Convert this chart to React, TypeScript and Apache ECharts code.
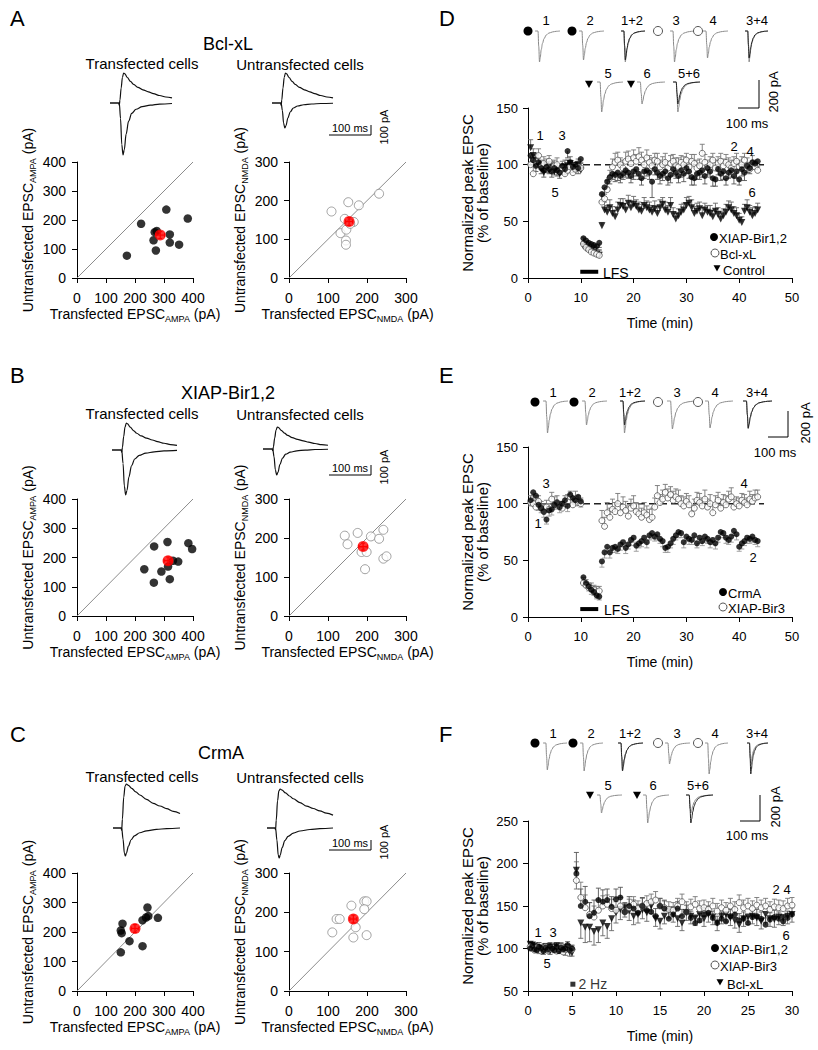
import React, { useEffect, useRef } from 'react';
import * as echarts from 'echarts';

const FONT = 'Arial, "Liberation Sans", Helvetica, sans-serif';

// ---------- Scatter panels (A, B, C): [transfected, untransfected] ----------
const A_ampa = [[172,77],[221,187],[308,236],[382,205],[268,158],[275,162],[264,130],[272,95],[320,150],[320,122],[352,115]];
const A_ampaMean = [287,148,15,12];
const A_nmda = [[109,172],[152,196],[179,188],[231,218],[143,153],[166,145],[132,116],[147,125],[146,97],[146,86],[157,140]];
const A_nmdaMean = [154,146,9,10];
const B_ampa = [[232,160],[266,238],[312,253],[384,249],[397,229],[265,114],[291,152],[314,169],[320,126],[331,189],[349,186]];
const B_ampaMean = [314,189,14,13];
const B_nmda = [[143,206],[150,184],[176,213],[210,204],[242,221],[231,198],[186,164],[199,164],[195,120],[242,147],[250,153]];
const B_nmdaMean = [190,178,11,9];
const C_ampa = [[151,131],[151,205],[154,196],[157,228],[181,169],[226,152],[226,240],[238,249],[243,283],[246,254],[279,248]];
const C_ampaMean = [200,212,13,13];
const C_nmda = [[111,149],[122,183],[130,183],[160,217],[165,136],[171,162],[193,228],[199,228],[193,208],[199,142]];
const C_nmdaMean = [165,183,9,10];

const ampaTicks = { min: 0, max: 400, interval: 100 };
const nmdaTicks = { min: 0, max: 300, interval: 100 };

// ---------- Time courses ----------
const timeDE = Array.from({ length: 87 }, (_, i) => 0.5 + i * 0.5);
const timeF = [0.25,0.5,0.75,1,1.25,1.5,1.75,2,2.25,2.5,2.75,3,3.25,3.5,3.75,4,4.25,4.5,4.75,5,
  5.5,6,6.5,7,7.5,8,8.5,9,9.5,10,10.5,11,11.5,12,12.5,13,13.5,14,14.5,15,15.5,16,16.5,17,17.5,18,18.5,19,19.5,20,
  20.5,21,21.5,22,22.5,23,23.5,24,24.5,25,25.5,26,26.5,27,27.5,28,28.5,29,29.5,30];

// D
const D_xiap = [108,104,99,102,97,95,98,96,94,97,95,93,99,96,112,102,98,100,97,105,
  35,33,31,30,29,28,31,
  74,80,85,89,92,91,93,90,92,95, 93,90,94,96,92,88,94,95,93,85, 96,93,90,92,94,88,91,96,93,90,
  95,92,97,94,89,88,92,93,95,90, 97,94,88,87,96,92,94,88,93,95, 90,94,87,96,93,99,97,102,101,103];
const D_xiapErr = [6,5,5,4,5,6,5,4,5,6,5,5,6,5,6,5,5,6,5,7, 5,5,4,5,4,5,4,
  6,6,5,6,5,6,7,6,5,6, 5,6,7,6,5,6,6,5,6,14, 5,6,7,6,5,6,7,6,5,6,
  6,7,5,6,7,6,5,6,6,7, 6,5,7,6,5,6,7,6,5,6, 7,6,5,6,7,6,5,6,5,5];
const D_bcl = [100,92,103,108,99,101,97,103,96,99,100,94,97,92,95,98,93,96,98,97,
  30,27,25,23,22,21,20,
  67,70,78,88,98,102,104,100,97,103, 105,101,106,103,107,104,100,106,102,99, 104,103,98,100,102,97,101,103,99,98,
  102,100,104,98,103,101,97,99,110,102, 98,100,104,97,101,103,99,102,100,97, 101,103,98,100,104,99,96,101,98,95];
const D_bclErr = [6,7,5,6,5,6,5,5,6,5,6,5,6,5,5,6,5,6,5,5, 6,5,6,5,5,6,5,
  8,9,8,7,7,8,7,6,7,8, 7,6,7,6,8,7,6,7,6,7, 6,7,6,7,8,6,7,6,7,8,
  6,7,6,7,6,8,7,6,8,7, 6,7,6,7,6,7,6,7,6,7, 6,7,6,7,6,7,6,7,6,6];
const D_ctrl = [115,108,104,100,96,93,100,95,98,94,96,92,95,98,99,101,97,96,100,95,
  28,26,25,24,22,21,20,
  46,60,58,62,57,54,60,64,63,60, 66,62,65,63,60,59,64,62,60,58, 61,57,62,65,60,58,64,56,52,55,
  58,60,64,66,62,57,59,61,55,60, 58,57,54,59,56,52,55,58,62,60, 57,55,51,49,59,62,58,55,57,60];
const D_ctrlErr = [7,6,5,6,5,6,5,6,5,6,5,6,5,6,5,6,5,6,5,6, 4,5,4,4,5,4,4,
  3,7,6,7,6,6,7,6,7,6, 7,6,7,6,7,6,7,6,7,6, 7,6,7,6,7,6,7,6,5,6,
  7,6,7,6,7,6,7,6,7,6, 6,7,6,7,6,7,6,7,6,7, 6,7,6,5,6,7,6,7,6,6];

// E
const E_crmA = [103,110,107,99,96,93,86,94,95,99,101,97,100,103,98,108,105,103,106,102,
  35,30,27,24,22,19,18,
  49,57,62,57,61,62,60,64,66,61, 64,68,70,63,65,67,70,66,72,74, 71,73,69,67,61,62,65,69,72,75,
  74,66,71,69,68,72,65,70,67,71, 69,66,68,65,70,75,74,70,68,71, 76,73,62,65,67,70,69,71,68,67];
const E_crmAErr = [5,6,5,5,4,5,4,5,5,4,5,5,4,5,5,4,5,5,4,5, 5,4,4,4,3,3,3,
  5,5,4,5,4,5,4,5,4,5, 4,5,4,5,4,5,4,5,4,5, 4,5,4,5,4,5,4,5,4,5,
  4,5,4,5,4,5,4,5,4,5, 4,5,4,5,4,5,4,5,4,5, 4,5,4,5,4,5,4,5,4,5];
const E_bir3 = [101,100,97,102,96,93,97,95,104,99,101,97,96,100,102,106,99,104,101,100,
  30,28,26,25,24,22,23,
  85,80,92,88,95,93,100,92,97,94, 89,96,98,93,91,88,92,90,86,88, 97,107,101,104,110,105,108,103,106,104,
  100,98,102,99,91,96,103,101,98,104, 97,100,92,99,103,96,101,99,104,106, 97,100,98,103,101,99,104,102,105,106];
const E_bir3Err = [6,7,6,5,6,7,6,5,6,7,6,5,6,7,6,5,6,7,6,5, 5,5,4,5,4,5,4,
  9,8,9,8,9,8,9,8,9,8, 9,8,9,8,9,8,9,8,9,8, 8,9,7,8,7,8,7,8,7,8,
  7,8,7,8,7,8,7,8,7,8, 7,8,7,8,7,8,7,8,7,8, 7,6,7,6,7,6,7,6,7,6];

// F
const F_bir12 = [100,103,99,98,102,100,97,101,99,103,100,98,102,97,101,99,100,104,98,100,
  188,150,155,138,142,157,155,157,149,158, 160,143,150,147,142,150,145,143,138,150,
  147,135,140,147,138,143,136,130,133,140, 142,136,130,135,132,138,140,133,135,130,
  137,138,135,128,134,137,135,132,136,140];
const F_bir12Err = [5,4,5,4,5,4,5,4,5,4,5,4,5,4,5,4,5,4,5,4,
  25,20,18,16,15,14,14,13,12,12, 12,11,11,10,10,10,10,9,9,9,
  9,9,9,8,8,8,8,8,8,8, 8,8,8,8,8,8,8,8,8,8, 8,8,8,8,8,8,8,8,8,8];
const F_bir3 = [102,100,98,101,99,97,100,102,98,100,101,99,97,100,102,96,99,101,98,99,
  180,160,148,140,137,145,150,152,147,145, 150,143,148,152,147,150,153,155,157,150,
  148,146,145,150,155,143,149,152,147,148, 146,150,144,148,145,150,146,154,148,150,
  147,151,148,150,146,149,148,147,150,151];
const F_bir3Err = [5,4,5,4,5,4,5,4,5,4,5,4,5,4,5,4,5,4,5,4,
  22,18,15,14,13,12,12,11,11,10, 10,10,10,9,9,9,9,9,10,9,
  9,9,9,9,9,12,9,9,9,9, 9,9,9,9,9,9,9,9,9,9, 9,9,9,9,9,9,9,9,9,9];
const F_bcl = [105,104,103,101,99,100,98,102,100,97,101,99,103,98,100,99,97,101,96,95,
  192,130,125,125,120,122,130,126,135,142, 146,148,144,138,140,145,142,150,135,132,
  138,145,140,135,130,142,138,136,140,135, 140,137,130,138,140,136,133,128,135,137,
  138,136,132,140,135,134,137,136,138,140];
const F_bclErr = [5,4,5,4,5,4,5,4,5,4,5,4,5,4,5,4,5,4,5,4,
  22,18,18,17,16,15,15,14,14,12, 12,11,11,10,10,10,10,9,9,9,
  9,9,9,9,9,9,9,9,9,9, 9,9,9,9,9,9,9,9,9,9, 9,9,9,9,9,9,9,9,9,9];

// ---------- Representative traces (x in % of sweep, y normalized) ----------
const upFast = [[0,0],[14,0],[15,-0.08],[16,0.1],[18,0.5],[20,0.85],[22,1],[24,0.97],[28,0.85],[33,0.72],[38,0.62],[45,0.52],[53,0.44],[62,0.37],[70,0.31],[80,0.25],[90,0.2],[100,0.17]];
const dnFast = [[0,0],[15,0],[17,-0.3],[19,-0.8],[21,-1],[23,-0.9],[26,-0.6],[30,-0.35],[35,-0.2],[42,-0.12],[52,-0.07],[65,-0.04],[80,-0.02],[100,-0.01]];
const upSlow = [[0,0],[12,0],[13,-0.05],[14,0.2],[16,0.7],[18,0.95],[20,1],[23,0.97],[28,0.9],[34,0.82],[40,0.75],[50,0.65],[60,0.56],[70,0.5],[80,0.44],[90,0.38],[100,0.33]];
const dnSlow = [[0,0],[13,0],[15,-0.4],[17,-0.9],[18.5,-1],[20,-0.9],[23,-0.65],[27,-0.42],[32,-0.28],[40,-0.17],[50,-0.1],[65,-0.05],[80,-0.02],[100,0]];
const epsc = [[0,0],[12,0],[15,-0.5],[18,-1],[21,-0.85],[25,-0.6],[30,-0.4],[36,-0.25],[45,-0.13],[55,-0.07],[70,-0.03],[85,-0.01],[100,0]];

function buildOption() {
  const grid: any[] = [], xAxis: any[] = [], yAxis: any[] = [], series: any[] = [], els: any[] = [];

  const addGrid = (box: any, xa: any, ya: any) => {
    grid.push({ ...box, containLabel: false, outerBoundsMode: 'none', show: false });
    const i = grid.length - 1;
    xAxis.push({ gridIndex: i, ...xa });
    yAxis.push({ gridIndex: i, ...ya });
    return i;
  };

  const axisBase = (fs: number, margin: number) => ({
    type: 'value',
    axisLine: { show: true, onZero: false, lineStyle: { color: '#000', width: 1 } },
    axisTick: { show: true, inside: false, length: 5, lineStyle: { color: '#000', width: 1 } },
    axisLabel: { color: '#000', fontSize: fs, fontFamily: FONT, margin },
    splitLine: { show: false },
  });

  const rich = {
    n: { fontSize: 14, fontFamily: FONT, color: '#000', lineHeight: 16, verticalAlign: 'top' },
    s: { fontSize: 9, fontFamily: FONT, color: '#000', lineHeight: 10, padding: [7, 0, 0, 0], verticalAlign: 'top' },
  };

  const scatterPanel = (box: any, ticks: any, sub: string, pts: number[][], mean: number[], filled: boolean) => {
    const i = addGrid(box,
      { ...axisBase(14, 13), ...ticks, name: `{n|Transfected EPSC}{s|${sub}}{n| (pA)}`, nameLocation: 'middle', nameGap: 29, nameTextStyle: { rich } },
      { ...axisBase(14, 11), ...ticks, name: `{n|Untransfected EPSC}{s|${sub}}{n| (pA)}`, nameLocation: 'middle', nameGap: 40, nameTextStyle: { rich } });
    series.push({ type: 'line', xAxisIndex: i, yAxisIndex: i, data: [[ticks.min, ticks.min], [ticks.max, ticks.max]], symbol: 'none', silent: true, lineStyle: { color: '#8c8c8c', width: 1 }, z: 1 });
    series.push({ type: 'scatter', xAxisIndex: i, yAxisIndex: i, data: pts, symbolSize: filled ? 8.5 : 9, silent: true,
      itemStyle: filled ? { color: '#000' } : { color: '#fff', borderColor: '#8a8a8a', borderWidth: 1 }, z: 2 });
    series.push({ type: 'custom', xAxisIndex: i, yAxisIndex: i, data: [mean], silent: true, z: 3,
      renderItem: (_p: any, api: any) => {
        const x = api.value(0), y = api.value(1), ex = api.value(2), ey = api.value(3);
        const l = api.coord([x - ex, y]), r = api.coord([x + ex, y]), t = api.coord([x, y + ey]), b = api.coord([x, y - ey]);
        const st = { stroke: '#ff0000', lineWidth: 1.2 };
        return { type: 'group', children: [
          { type: 'line', shape: { x1: l[0], y1: l[1], x2: r[0], y2: r[1] }, style: st },
          { type: 'line', shape: { x1: t[0], y1: t[1], x2: b[0], y2: b[1] }, style: st },
          { type: 'line', shape: { x1: l[0], y1: l[1] - 2, x2: l[0], y2: l[1] + 2 }, style: st },
          { type: 'line', shape: { x1: r[0], y1: r[1] - 2, x2: r[0], y2: r[1] + 2 }, style: st },
          { type: 'line', shape: { x1: t[0] - 2, y1: t[1], x2: t[0] + 2, y2: t[1] }, style: st },
          { type: 'line', shape: { x1: b[0] - 2, y1: b[1], x2: b[0] + 2, y2: b[1] }, style: st },
        ] };
      } });
    series.push({ type: 'scatter', xAxisIndex: i, yAxisIndex: i, data: [mean.slice(0, 2)], symbolSize: 11, silent: true, itemStyle: { color: '#ff0000' }, z: 4 });
  };

  scatterPanel({ left: 77, top: 162, width: 116, height: 116 }, ampaTicks, 'AMPA', A_ampa, A_ampaMean, true);
  scatterPanel({ left: 289, top: 162, width: 117, height: 116 }, nmdaTicks, 'NMDA', A_nmda, A_nmdaMean, false);
  scatterPanel({ left: 77, top: 499, width: 116, height: 117 }, ampaTicks, 'AMPA', B_ampa, B_ampaMean, true);
  scatterPanel({ left: 289, top: 499, width: 117, height: 117 }, nmdaTicks, 'NMDA', B_nmda, B_nmdaMean, false);
  scatterPanel({ left: 77, top: 873, width: 116, height: 118 }, ampaTicks, 'AMPA', C_ampa, C_ampaMean, true);
  scatterPanel({ left: 289, top: 873, width: 117, height: 118 }, nmdaTicks, 'NMDA', C_nmda, C_nmdaMean, false);

  // ---------- traces ----------
  const traceGrid = (x0: number, x1: number, y0: number, y1: number, shape: number[][], ymin: number, ymax: number, color: string, w = 1) => {
    const i = addGrid({ left: x0, top: y0, width: x1 - x0, height: Math.max(1, y1 - y0) },
      { type: 'value', show: false, min: 0, max: 100 }, { type: 'value', show: false, min: ymin, max: ymax });
    series.push({ type: 'line', xAxisIndex: i, yAxisIndex: i, data: shape, symbol: 'none', smooth: 0.35, smoothMonotone: 'x', clip: false, silent: true, lineStyle: { color, width: w }, z: 3 });
  };
  const abcTraces = [
    [110, 172, 73, 103, 155, upFast, dnFast],
    [272, 333, 73, 103, 128, upFast, dnFast],
    [112, 177, 423, 450, 495, upFast, dnFast],
    [263, 328, 427, 449, 475, upFast, dnFast],
    [113, 180, 784, 828, 856, upSlow, dnSlow],
    [267, 333, 789, 828, 858, upSlow, dnSlow],
  ] as any[];
  for (const [x0, x1, pk, base, tr, up, dn] of abcTraces) {
    traceGrid(x0, x1, pk, base, up, 0, 1, '#111', 1.2);
    traceGrid(x0, x1, base, tr, dn, -1, 0, '#111', 1.2);
  }
  const G = '#8a8a8a', K = '#222';
  const ltdTraces = [
    // D
    [535, 560, 31, 62, G], [579, 604, 31, 60, G], [621, 645, 31, 62, G], [621, 645, 31, 60, K],
    [670, 695, 31, 62, G], [703, 728, 31, 58, G], [745, 768, 31, 62, G], [745, 768, 31, 58, K],
    [597, 623, 82, 112, G], [637, 665, 82, 104, G], [673, 700, 82, 112, G], [673, 700, 82, 104, K],
    // E
    [543, 568, 401, 433, G], [582, 607, 401, 425, G], [620, 645, 401, 433, G], [620, 645, 401, 425, K],
    [667, 697, 401, 429, G], [705, 733, 401, 428, G], [743, 772, 401, 429, G], [743, 772, 401, 428, K],
    // F
    [543, 567, 743, 770, G], [580, 603, 743, 771, G], [618, 643, 743, 770, G], [618, 643, 743, 771, K],
    [665, 690, 743, 764, G], [705, 728, 743, 774, G], [747, 768, 743, 764, G], [747, 768, 743, 774, K],
    [597, 622, 795, 813, G], [643, 669, 795, 823, G], [686, 713, 795, 813, G], [686, 713, 795, 823, K],
  ] as any[];
  for (const [x0, x1, b, t, c] of ltdTraces) traceGrid(x0, x1, b, t, epsc, -1, 0, c, 1);

  // ---------- time-course panels ----------
  const tcPanel = (box: any, xt: any, yt: any) => addGrid(box,
    { ...axisBase(13, 13), ...xt, name: 'Time (min)', nameLocation: 'middle', nameGap: 38, nameTextStyle: { fontSize: 14, fontFamily: FONT, color: '#000' } },
    { ...axisBase(13, 10), ...yt, name: 'Normalized peak EPSC\n(% of baseline)', nameLocation: 'middle', nameGap: 38,
      nameTextStyle: { fontSize: 15, lineHeight: 15, fontFamily: FONT, color: '#000', align: 'center' } });

  const tri = (t: number[], v: number[], e: number[]) => t.map((x, k) => [x, v[k], e[k]]);
  const errSeries = (i: number, data: number[][], dir: number, color: string) => ({
    type: 'custom', xAxisIndex: i, yAxisIndex: i, data, silent: true, z: 2, encode: { x: 0, y: 1 },
    renderItem: (_p: any, api: any) => {
      const x = api.value(0), y = api.value(1), e = api.value(2);
      const p0 = api.coord([x, y]), p1 = api.coord([x, y + dir * e]);
      const st = { stroke: color, lineWidth: 0.9 };
      return { type: 'group', children: [
        { type: 'line', shape: { x1: p0[0], y1: p0[1], x2: p1[0], y2: p1[1] }, style: st },
        { type: 'line', shape: { x1: p1[0] - 2.5, y1: p1[1], x2: p1[0] + 2.5, y2: p1[1] }, style: st },
      ] };
    } });
  const ptSeries = (i: number, data: number[][], kind: string, z: number) => {
    const d = data.map((r) => [r[0], r[1]]);
    const base: any = { type: 'scatter', xAxisIndex: i, yAxisIndex: i, data: d, silent: true, z };
    if (kind === 'filled') return { ...base, symbol: 'circle', symbolSize: 6, itemStyle: { color: '#000' } };
    if (kind === 'open') return { ...base, symbol: 'circle', symbolSize: 6, itemStyle: { color: '#fff', borderColor: '#555', borderWidth: 1 } };
    return { ...base, symbol: 'triangle', symbolRotate: 180, symbolSize: 7, itemStyle: { color: '#000' } };
  };
  const dashed = (i: number) => ({ type: 'line', xAxisIndex: i, yAxisIndex: i, data: [[0, 100], [44.7, 100]], symbol: 'none', silent: true, z: 1,
    lineStyle: { color: '#222', width: 1.5, type: [7, 4] } });
  const lfs = (i: number, y: number) => ({ type: 'line', xAxisIndex: i, yAxisIndex: i, data: [[9.9, y], [13.3, y]], symbol: 'none', silent: true, z: 5,
    lineStyle: { color: '#000', width: 4 } });

  const iD = tcPanel({ left: 528, top: 108, width: 264, height: 170 }, { min: 0, max: 50, interval: 10 }, { min: 0, max: 150, interval: 50 });
  series.push(dashed(iD), lfs(iD, 5.5));
  const dC = tri(timeDE, D_ctrl, D_ctrlErr), dB = tri(timeDE, D_bcl, D_bclErr), dX = tri(timeDE, D_xiap, D_xiapErr);
  series.push(errSeries(iD, dC, 1, '#666'), errSeries(iD, dB, 1, '#777'), errSeries(iD, dX, -1, '#555'));
  series.push(ptSeries(iD, dC, 'tri', 3), ptSeries(iD, dB, 'open', 4), ptSeries(iD, dX, 'filled', 5));

  const iE = tcPanel({ left: 528, top: 447, width: 264, height: 170 }, { min: 0, max: 50, interval: 10 }, { min: 0, max: 150, interval: 50 });
  series.push(dashed(iE), lfs(iE, 7));
  const eO = tri(timeDE, E_bir3, E_bir3Err), eF = tri(timeDE, E_crmA, E_crmAErr);
  series.push(errSeries(iE, eO, 1, '#777'), errSeries(iE, eF, -1, '#999'));
  series.push(ptSeries(iE, eO, 'open', 3), ptSeries(iE, eF, 'filled', 4));

  const iF = tcPanel({ left: 528, top: 821, width: 264, height: 170 }, { min: 0, max: 30, interval: 5 }, { min: 50, max: 250, interval: 50 });
  const fT = tri(timeF, F_bcl, F_bclErr), fO = tri(timeF, F_bir3, F_bir3Err), fX = tri(timeF, F_bir12, F_bir12Err);
  series.push(errSeries(iF, fT, -1, '#666'), errSeries(iF, fO, 1, '#777'), errSeries(iF, fX, 1, '#555'));
  series.push(ptSeries(iF, fT, 'tri', 3), ptSeries(iF, fO, 'open', 4), ptSeries(iF, fX, 'filled', 5));
  series.push({ type: 'scatter', xAxisIndex: iF, yAxisIndex: iF, data: [[5.1, 58]], symbol: 'rect', symbolSize: 5, silent: true, itemStyle: { color: '#000' },
    label: { show: true, position: 'right', distance: 3, formatter: '2 Hz', color: '#000', fontSize: 14, fontFamily: FONT } });

  // ---------- graphic annotations ----------
  const txt = (text: string, x: number, y: number, size: number, align = 'center', rot = 0) => els.push({
    type: 'text', x, y, rotation: rot, silent: true, z: 10,
    style: { text, fontSize: size, fontFamily: FONT, fill: '#000', align, verticalAlign: 'middle' } });
  const ln = (x1: number, y1: number, x2: number, y2: number, w = 1) => els.push({ type: 'line', silent: true, z: 10,
    shape: { x1, y1, x2, y2 }, style: { stroke: '#000', lineWidth: w } });
  const dot = (cx: number, cy: number, filled: boolean, r = 4.5) => els.push({ type: 'circle', silent: true, z: 10,
    shape: { cx, cy, r }, style: filled ? { fill: '#000' } : { fill: '#fff', stroke: '#555', lineWidth: 1 } });
  const tdown = (x: number, y: number, s = 4) => els.push({ type: 'polygon', silent: true, z: 10,
    shape: { points: [[x - s, y - s * 0.8], [x + s, y - s * 0.8], [x, y + s]] }, style: { fill: '#000' } });

  // panel letters and titles
  txt('A', 10, 18, 22, 'left'); txt('B', 10, 375, 22, 'left'); txt('C', 10, 734, 22, 'left');
  txt('D', 439, 18, 22, 'left'); txt('E', 439, 375, 22, 'left'); txt('F', 439, 734, 22, 'left');
  txt('Bcl-xL', 228, 44, 18); txt('XIAP-Bir1,2', 228, 393, 18); txt('CrmA', 221, 753, 18);
  for (const [y1, y2] of [[63, 64], [413, 414], [776, 777]]) {
    txt('Transfected cells', 142, y1, 15); txt('Untransfected cells', 300, y2, 15);
  }
  // ABC scale bars
  for (const y of [135, 475, 850]) {
    ln(329, y, 371, y); ln(371, y - 10, 371, y);
    txt('100 ms', 350, y - 7, 11); txt('100 pA', 384, y - 8, 11, 'center', Math.PI / 2);
  }
  // D/E/F scale bars
  const sb = (xv: number, ytop: number, ybot: number, xl: number, pax: number, pay: number, msx: number, msy: number) => {
    ln(xv, ytop, xv, ybot); ln(xl, ybot, xv, ybot);
    txt('200 pA', pax, pay, 13, 'center', Math.PI / 2); txt('100 ms', msx, msy, 13);
  };
  sb(759, 80, 108, 738, 773, 92, 747, 123);
  sb(788, 411, 437, 768, 805, 423, 775, 452);
  sb(760, 795, 821, 740, 775, 807, 747, 835);

  // trace labels and markers
  const lab = (arr: any[], y: number) => arr.forEach(([t, x]) => txt(t, x, y, 13));
  lab([['1', 546], ['2', 590], ['1+2', 632], ['3', 676], ['4', 713], ['3+4', 757]], 20);
  lab([['5', 608], ['6', 647], ['5+6', 689]], 73);
  dot(528, 31, true); dot(572, 31, true); dot(658, 31, false); dot(698, 31, false); tdown(589, 84); tdown(631, 84);
  lab([['1', 553], ['2', 592], ['1+2', 630], ['3', 677], ['4', 715], ['3+4', 757]], 392);
  dot(535, 402, true); dot(574, 402, true); dot(658, 402, false); dot(698, 402, false);
  lab([['1', 553], ['2', 591], ['1+2', 630], ['3', 677], ['4', 715], ['3+4', 757]], 733);
  lab([['5', 608], ['6', 653], ['5+6', 698]], 785);
  dot(535, 743, true); dot(573, 743, true); dot(658, 743, false); dot(698, 743, false); tdown(590, 795); tdown(637, 795);

  // in-plot time-point numbers
  ([['1', 540, 135], ['3', 562, 135], ['5', 555, 192], ['2', 734, 146], ['4', 750, 151], ['6', 752, 192],
    ['3', 546, 483], ['1', 538, 523], ['4', 744, 483], ['2', 753, 557],
    ['1', 538, 932], ['3', 553, 932], ['5', 547, 963], ['2', 776, 889], ['4', 787, 889], ['6', 786, 935]] as any[])
    .forEach(([t, x, y]) => txt(t, x, y, 13));

  // LFS labels
  txt('LFS', 603, 273, 14, 'left'); txt('LFS', 604, 610, 14, 'left');

  // legends
  dot(714, 237, true, 4); txt('XIAP-Bir1,2', 719, 238, 13, 'left');
  dot(715, 253, false, 4); txt('Bcl-xL', 720, 254, 13, 'left');
  tdown(717, 268, 3.5); txt('Control', 723, 270, 13, 'left');
  dot(723, 592, true, 4); txt('CrmA', 728, 593, 13, 'left');
  dot(723, 607, false, 4); txt('XIAP-Bir3', 728, 608, 13, 'left');
  dot(715, 948, true, 4); txt('XIAP-Bir1,2', 720, 949, 13, 'left');
  dot(715, 965, false, 4); txt('XIAP-Bir3', 720, 966, 13, 'left');
  tdown(720, 982, 3.5); txt('Bcl-xL', 727, 984, 13, 'left');

  return {
    animation: false,
    backgroundColor: '#fff',
    textStyle: { fontFamily: FONT },
    grid, xAxis, yAxis, series,
    graphic: { elements: els },
  };
}

export default function App() {
  const ref = useRef<HTMLDivElement>(null);
  useEffect(() => {
    const chart = echarts.init(ref.current!, null, { renderer: 'svg' });
    chart.setOption(buildOption() as any);
    return () => chart.dispose();
  }, []);
  return <div ref={ref} style={{ position: 'absolute', left: 0, top: 0, width: 818, height: 1050, background: '#fff' }} />;
}
